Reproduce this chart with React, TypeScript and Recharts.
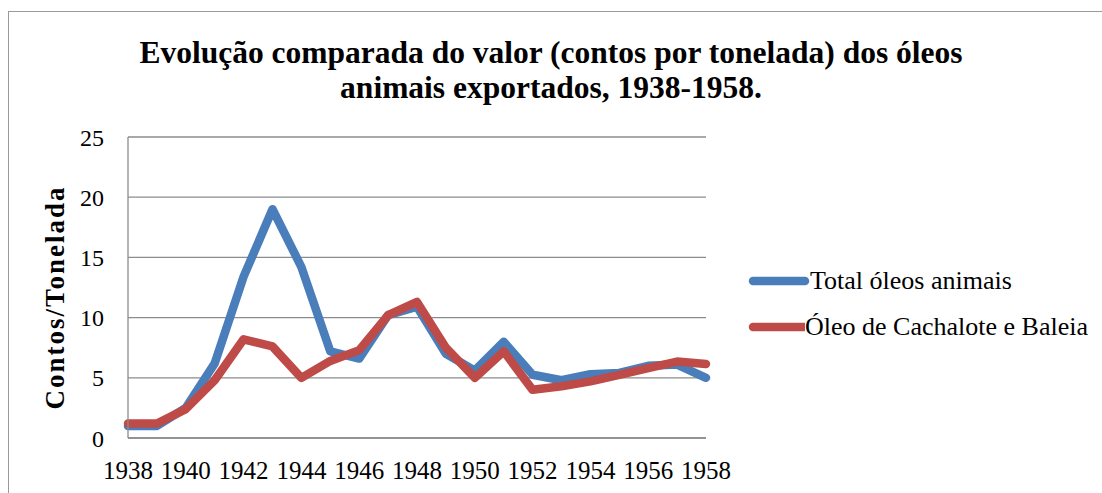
import React from 'react';
import { LineChart, Line, XAxis, YAxis, CartesianGrid, Legend, Label } from 'recharts';

const years = ['1938','1939','1940','1941','1942','1943','1944','1945','1946','1947','1948','1949','1950','1951','1952','1953','1954','1955','1956','1957','1958'];
const totalOleos = [1.0, 1.0, 2.5, 6.2, 13.4, 19.0, 14.2, 7.2, 6.6, 10.2, 10.9, 7.0, 5.6, 8.0, 5.25, 4.8, 5.3, 5.4, 6.0, 6.1, 5.0];
const cachaloteBaleia = [1.2, 1.2, 2.4, 4.8, 8.2, 7.6, 5.0, 6.4, 7.3, 10.2, 11.3, 7.5, 5.0, 7.2, 4.0, 4.3, 4.7, 5.25, 5.8, 6.35, 6.15];
const yTicks = [0, 5, 10, 15, 20, 25];
const seriesNames = ['Total óleos animais', 'Óleo de Cachalote e Baleia'];
const colors = ['#4A7EBB', '#BE4B48'];

const data = years.map((y, i) => ({ year: y, total: totalOleos[i], cachalote: cachaloteBaleia[i] }));

const FONT = '"Liberation Serif", "DejaVu Serif", serif';

const LegendContent = () => (
  <div style={{ fontFamily: FONT, fontSize: 26, color: '#000' }}>
    {seriesNames.map((n, i) => (
      <div key={n} style={{ display: 'flex', alignItems: 'center', height: 46 }}>
        <svg width={62} height={12} style={{ display: 'block' }}>
          <line x1={5} y1={6} x2={57} y2={6} stroke={colors[i]} strokeWidth={8.5} strokeLinecap="round" />
        </svg>
        <span style={{ whiteSpace: 'nowrap', lineHeight: '30px' }}>{n}</span>
      </div>
    ))}
  </div>
);

export default function App() {
  return (
    <div style={{ position: 'fixed', left: 0, top: 0, width: 1102, height: 493, background: '#fff', overflow: 'hidden' }}>
      <div style={{ position: 'absolute', left: 8, top: 11, width: 1200, height: 600, border: '1.5px solid #9a9a9a' }} />
      <div style={{ position: 'absolute', left: 0, top: 0, width: 1102, textAlign: 'center', fontFamily: FONT, fontWeight: 'bold', fontSize: 31.5, lineHeight: '35px', paddingTop: 35, paddingLeft: 0 }}>
        <div>Evolução comparada do valor (contos por tonelada) dos óleos</div>
        <div>animais exportados, 1938-1958.</div>
      </div>
      <div style={{ position: 'absolute', left: 0, top: 0 }}>
        <LineChart width={1102} height={493} data={data} margin={{ top: 137, left: 68, right: 56, bottom: 25 }}>
          <CartesianGrid vertical={false} stroke="#8c8c8c" strokeWidth={1.3} />
          <XAxis dataKey="year" interval={1} tickLine={false} tickSize={0} tickMargin={23} height={30}
            axisLine={{ stroke: '#8c8c8c', strokeWidth: 1.3 }}
            tick={{ fontFamily: FONT, fontSize: 25, fill: '#000' }} />
          <YAxis domain={[0, 25]} ticks={yTicks} width={60} tickLine={false} tickSize={0} tickMargin={24}
            axisLine={{ stroke: '#8c8c8c', strokeWidth: 1.3 }}
            tick={{ fontFamily: FONT, fontSize: 24, fill: '#000' }}>
            <Label value="Contos/Tonelada" angle={-90} position="insideLeft" dx={-19} dy={10}
              style={{ fontFamily: FONT, fontSize: 27, fontWeight: 'bold', fill: '#000', textAnchor: 'middle', letterSpacing: 2 }} />
          </YAxis>
          <Legend layout="horizontal" verticalAlign="middle" align="right" content={<LegendContent />}
            wrapperStyle={{ left: 748, top: 258, right: 'auto', width: 340 }} />
          <Line type="linear" dataKey="total" name={seriesNames[0]} stroke={colors[0]} strokeWidth={8.5}
            dot={false} activeDot={false} isAnimationActive={false} strokeLinejoin="round" strokeLinecap="round" />
          <Line type="linear" dataKey="cachalote" name={seriesNames[1]} stroke={colors[1]} strokeWidth={8.5}
            dot={false} activeDot={false} isAnimationActive={false} strokeLinejoin="round" strokeLinecap="round" />
        </LineChart>
      </div>
    </div>
  );
}
